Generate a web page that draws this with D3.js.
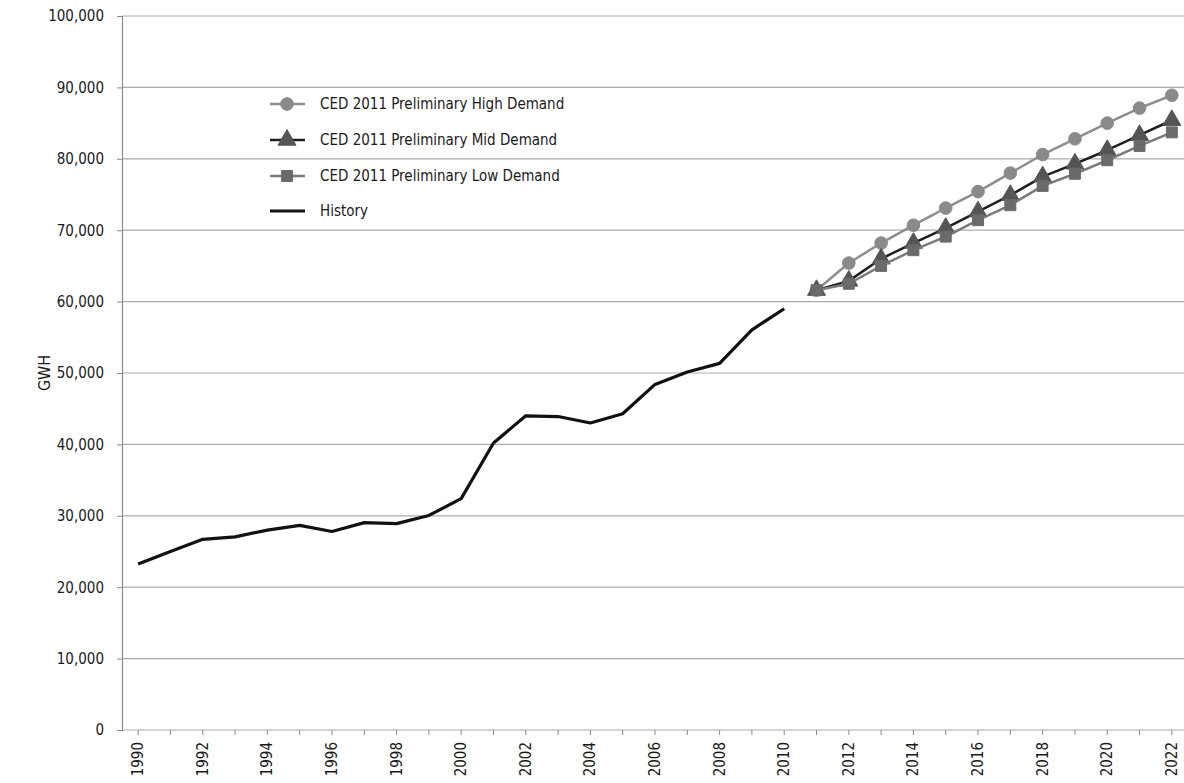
<!DOCTYPE html>
<html>
<head>
<meta charset="utf-8">
<script src="https://cdn.jsdelivr.net/npm/d3@7"></script>
<style>
  html, body { margin: 0; padding: 0; background: #ffffff; }
  svg { display: block; }
  text { font-family: "Liberation Sans Narrow", "DejaVu Sans Condensed", "Arial Narrow", sans-serif; fill: #1a1a1a; }
</style>
</head>
<body>
<svg id="chart" width="1184" height="783"></svg>
<script>
// Annual electricity consumption, GWh
const historyYears = [1990, 1991, 1992, 1993, 1994, 1995, 1996, 1997, 1998, 1999, 2000,
                      2001, 2002, 2003, 2004, 2005, 2006, 2007, 2008, 2009, 2010];
const historyValues = [23250, 25000, 26700, 27050, 28000, 28650, 27800, 29050, 28900, 30050, 32400,
                       40200, 44000, 43900, 43000, 44300, 48400, 50150, 51350, 56050, 59000];

const forecastYears = [2011, 2012, 2013, 2014, 2015, 2016, 2017, 2018, 2019, 2020, 2021, 2022];
const highDemand = [61600, 65400, 68200, 70700, 73100, 75400, 78000, 80600, 82800, 85000, 87100, 88900];
const midDemand  = [61600, 62900, 66000, 68200, 70300, 72600, 74900, 77500, 79300, 81200, 83300, 85400];
const lowDemand  = [61600, 62500, 65000, 67200, 69100, 71400, 73500, 76200, 77900, 79800, 81800, 83700];

const yTicks = [0, 10000, 20000, 30000, 40000, 50000, 60000, 70000, 80000, 90000, 100000];
const xLabelYears = [1990, 1992, 1994, 1996, 1998, 2000, 2002, 2004, 2006, 2008, 2010,
                     2012, 2014, 2016, 2018, 2020, 2022];
const legendLabels = ["CED 2011 Preliminary High Demand", "CED 2011 Preliminary Mid Demand",
                      "CED 2011 Preliminary Low Demand", "History"];

const svg = d3.select("#chart");

const x = d3.scaleLinear().domain([1989.5, 2022.5]).range([122, 1188]);
const y = d3.scaleLinear().domain([0, 100000]).range([730, 16]);

// horizontal gridlines
svg.append("g")
  .selectAll("line")
  .data(yTicks)
  .join("line")
  .attr("x1", 122).attr("x2", 1184)
  .attr("y1", d => y(d)).attr("y2", d => y(d))
  .attr("stroke", "#ababab").attr("stroke-width", 1.2);

// y axis
const yAxis = svg.append("g")
  .attr("transform", "translate(122,0)")
  .call(d3.axisLeft(y).tickValues(yTicks).tickFormat(d3.format(",")).tickSize(5).tickPadding(13));
yAxis.select(".domain").attr("stroke", "#8a8a8a").attr("stroke-width", 1.2);
yAxis.selectAll(".tick line").attr("stroke", "#8a8a8a");
yAxis.selectAll("text").attr("font-size", 15).attr("fill", "#1a1a1a")
  .style("font-family", "'Liberation Sans Narrow', 'DejaVu Sans Condensed', sans-serif");

svg.append("text")
  .attr("transform", "translate(45,373) rotate(-90)")
  .attr("text-anchor", "middle")
  .attr("dominant-baseline", "middle")
  .attr("font-size", 16)
  .text("GWH");

// x axis ticks (every year) and labels (even years)
const allYears = d3.range(1990, 2023);
svg.append("g")
  .selectAll("line")
  .data(allYears)
  .join("line")
  .attr("x1", d => x(d)).attr("x2", d => x(d))
  .attr("y1", 730).attr("y2", 735)
  .attr("stroke", "#8a8a8a");

svg.append("g")
  .selectAll("text")
  .data(xLabelYears)
  .join("text")
  .attr("transform", d => `translate(${x(d) + 5},742) rotate(-90)`)
  .attr("text-anchor", "end")
  .attr("font-size", 15)
  .text(d => d);

const line = d3.line().x(d => x(d[0])).y(d => y(d[1]));

const zip = (years, vals) => years.map((yr, i) => [yr, vals[i]]);

const histData = zip(historyYears, historyValues);
const highData = zip(forecastYears, highDemand);
const midData = zip(forecastYears, midDemand);
const lowData = zip(forecastYears, lowDemand);

const styles = {
  high: { line: "#8e8e8e", marker: "#8a8a8a", width: 2.5 },
  mid:  { line: "#1e1e1e", marker: "#555555", width: 2.5 },
  low:  { line: "#7a7a7a", marker: "#6a6a6a", width: 2.5 },
};

const symbolFor = {
  high: d3.symbol().type(d3.symbolCircle).size(125),
  mid: d3.symbol().type(d3.symbolTriangle).size(140),
  low: d3.symbol().type(d3.symbolSquare).size(120),
};

function drawSeries(data, key) {
  const s = styles[key];
  const g = svg.append("g");
  g.append("path")
    .datum(data)
    .attr("d", line)
    .attr("fill", "none")
    .attr("stroke", s.line)
    .attr("stroke-width", s.width)
    .attr("stroke-linejoin", "round");
  g.selectAll("path.m")
    .data(data)
    .join("path")
    .attr("class", "m")
    .attr("d", symbolFor[key]())
    .attr("transform", d => `translate(${x(d[0])},${y(d[1])})`)
    .attr("fill", s.marker)
    .attr("stroke", s.marker)
    .attr("stroke-width", 1);
}

drawSeries(highData, "high");
drawSeries(midData, "mid");
drawSeries(lowData, "low");

// history line
svg.append("path")
  .datum(histData)
  .attr("d", line)
  .attr("fill", "none")
  .attr("stroke", "#111")
  .attr("stroke-width", 3.2)
  .attr("stroke-linejoin", "round");

// legend
const legendKeys = ["high", "mid", "low", "history"];
const legendY = [104, 140, 176, 211];
const legend = svg.append("g");
legendKeys.forEach((k, i) => {
  const gy = legendY[i];
  const row = legend.append("g");
  if (k === "history") {
    row.append("line").attr("x1", 270).attr("x2", 305).attr("y1", gy).attr("y2", gy)
      .attr("stroke", "#111").attr("stroke-width", 3.2);
  } else {
    const s = styles[k];
    row.append("line").attr("x1", 270).attr("x2", 305).attr("y1", gy).attr("y2", gy)
      .attr("stroke", s.line).attr("stroke-width", 2.5);
    row.append("path")
      .attr("d", symbolFor[k]())
      .attr("transform", `translate(287,${gy})`)
      .attr("fill", s.marker).attr("stroke", s.marker);
  }
  row.append("text")
    .attr("x", 320).attr("y", gy)
    .attr("dominant-baseline", "middle")
    .attr("font-size", 15)
    .text(legendLabels[i]);
});
</script>
</body>
</html>
